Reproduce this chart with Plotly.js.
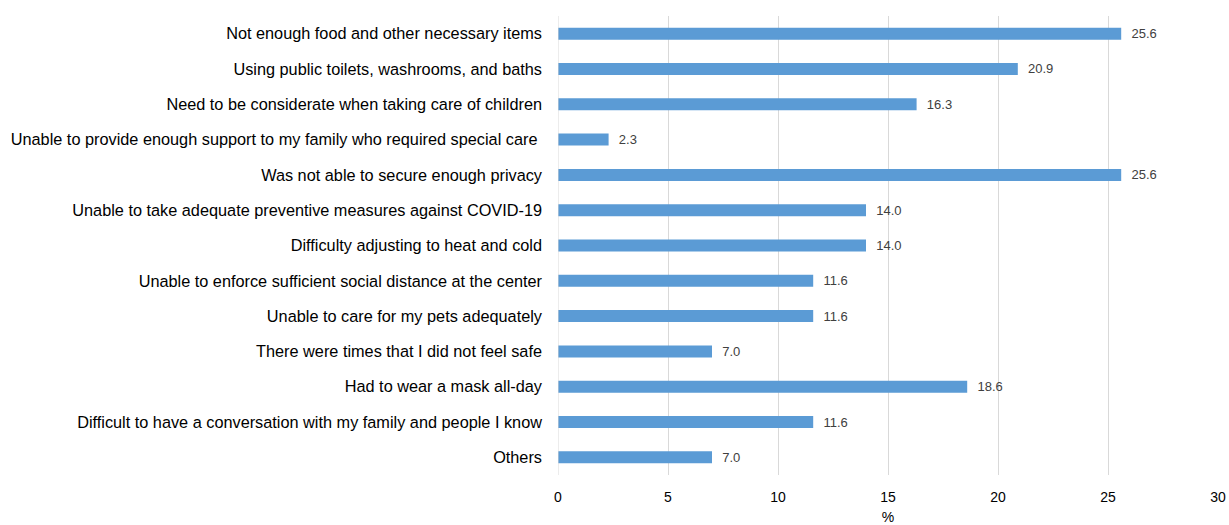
<!DOCTYPE html>
<html><head><meta charset="utf-8">
<script src="https://cdn.plot.ly/plotly-3.0.1.min.js"></script>
<style>html,body{margin:0;padding:0;background:#fff;}#chart{width:1229px;height:525px;}</style>
</head><body><div id="chart"></div>
<script>
const categories = [
  "Not enough food and other necessary items",
  "Using public toilets, washrooms, and baths",
  "Need to be considerate when taking care of children",
  "Unable to provide enough support to my family who required special care ",
  "Was not able to secure enough privacy",
  "Unable to take adequate preventive measures against COVID-19",
  "Difficulty adjusting to heat and cold",
  "Unable to enforce sufficient social distance at the center",
  "Unable to care for my pets adequately",
  "There were times that I did not feel safe",
  "Had to wear a mask all-day",
  "Difficult to have a conversation with my family and people I know",
  "Others"
];
const values = [25.6, 20.9, 16.3, 2.3, 25.6, 14.0, 14.0, 11.6, 11.6, 7.0, 18.6, 11.6, 7.0];
const xTicks = [0, 5, 10, 15, 20, 25, 30];

const trace = {
  type: 'bar', orientation: 'h',
  y: categories, x: values,
  marker: {color: '#5b9bd5'},
  width: 0.34,
  text: values.map(v => '  ' + v.toFixed(1)),
  textposition: 'outside',
  constraintext: 'none',
  cliponaxis: false,
  textfont: {family: 'Liberation Sans, Arial, sans-serif', size: 13, color: '#404040'},
  hoverinfo: 'x+y'
};
const layout = {
  width: 1229, height: 525,
  margin: {l: 558, r: 11, t: 16, b: 50},
  paper_bgcolor: '#fff', plot_bgcolor: '#fff',
  font: {family: 'Liberation Sans, Arial, sans-serif', color: '#000'},
  showlegend: false,
  xaxis: {
    range: [0, 30], tickvals: xTicks, ticktext: xTicks.map(String),
    showgrid: true, gridcolor: '#d9d9d9', gridwidth: 1,
    zeroline: false, showline: false, ticks: '',
    ticklabelstandoff: 12,
    tickfont: {size: 14, color: '#000'},
    title: {text: '%', font: {size: 14, color: '#000'}, standoff: 8}
  },
  yaxis: {
    autorange: 'reversed', showgrid: false, zeroline: false, showline: false,
    ticks: '', ticklabelstandoff: 15,
    tickfont: {size: 16.3, color: '#000'}
  },
  shapes: [{type: 'line', xref: 'x', yref: 'paper', x0: 0, x1: 0, y0: 0, y1: 1,
            line: {color: '#d9d9d9', width: 1}}]
};
Plotly.newPlot('chart', [trace], layout, {displayModeBar: false, staticPlot: true});
</script></body></html>
